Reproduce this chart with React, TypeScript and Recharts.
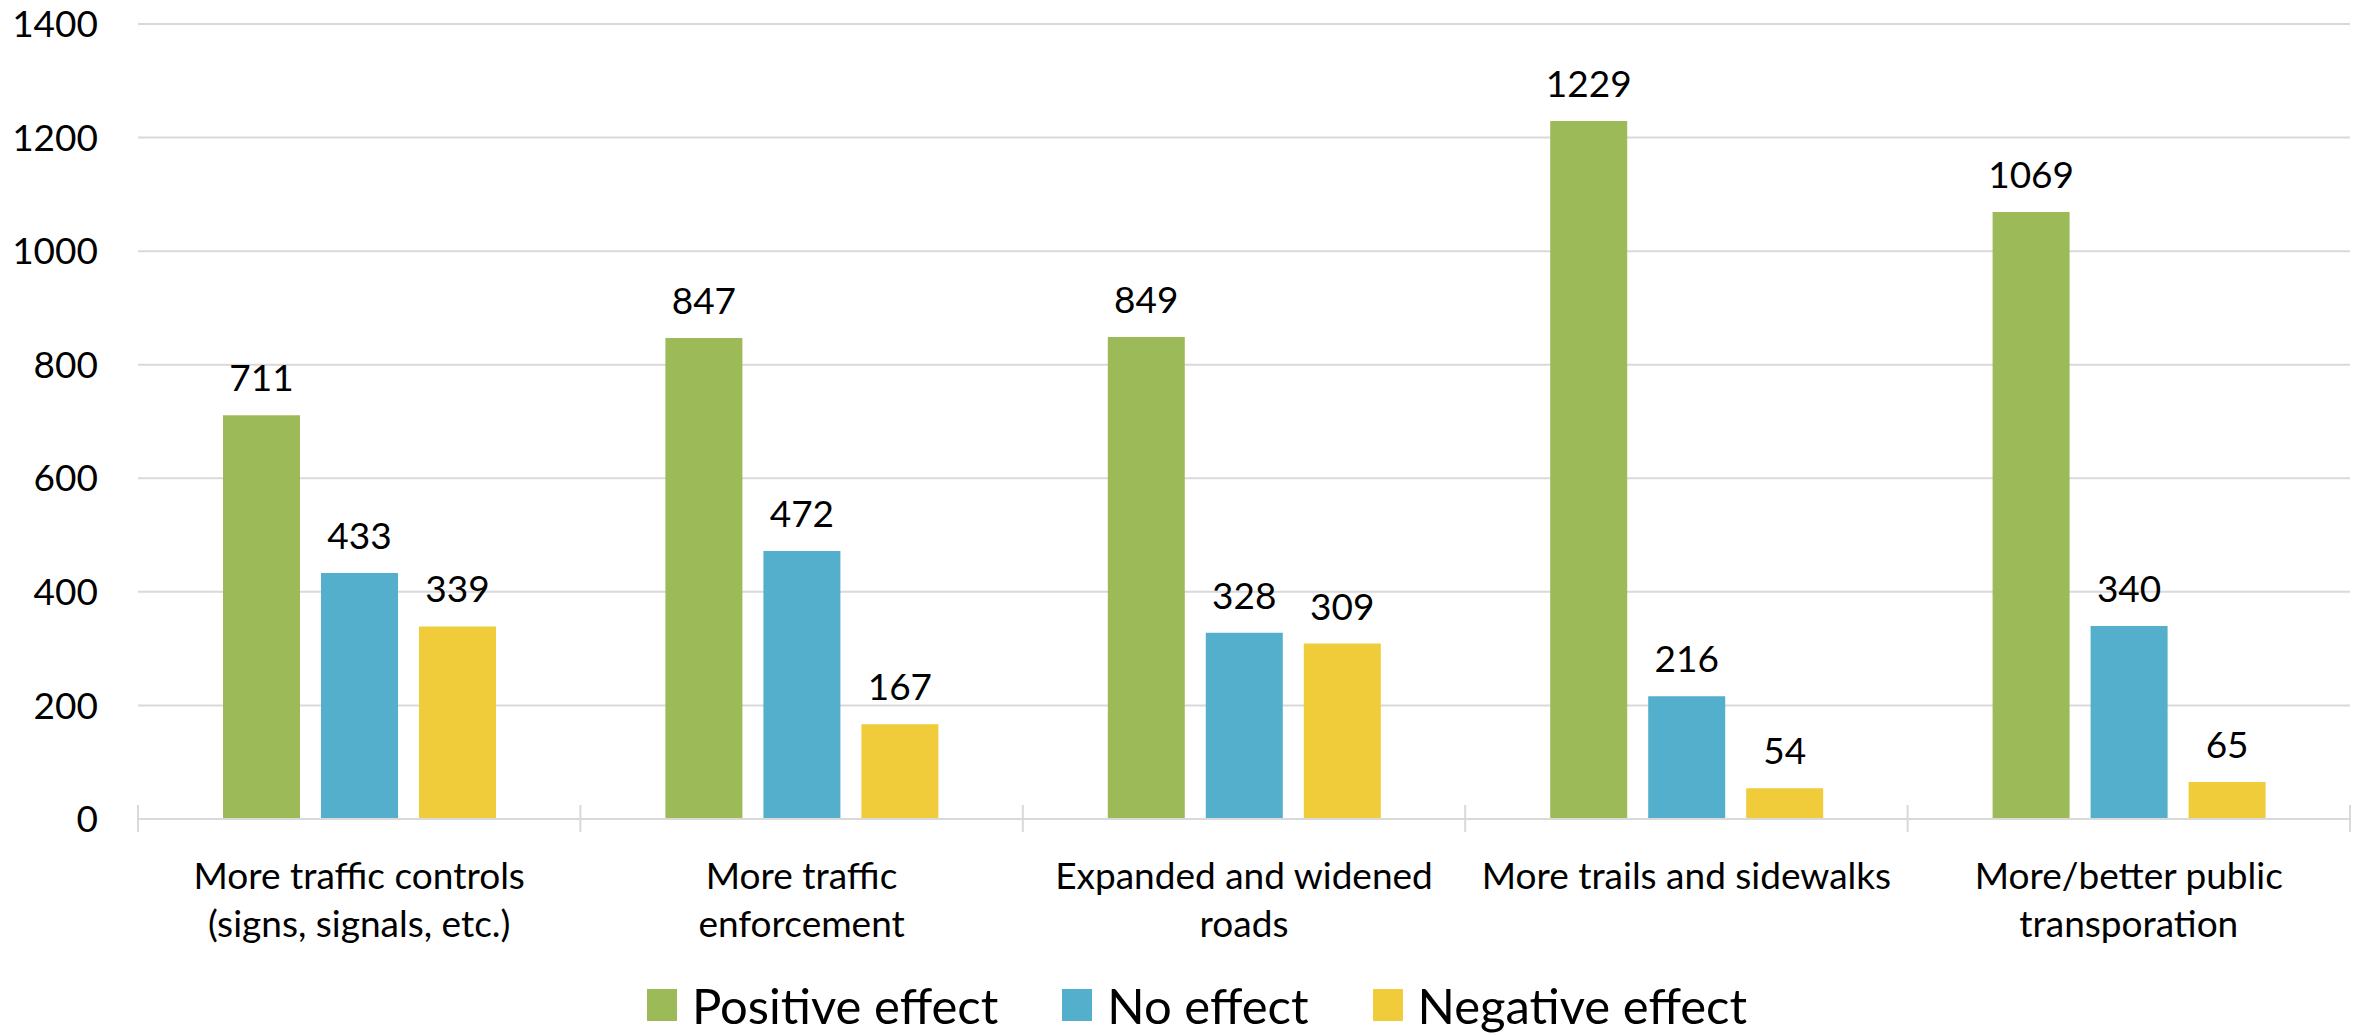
import React from 'react';
import { BarChart, Bar, XAxis, YAxis, CartesianGrid, Legend, LabelList } from 'recharts';

const categories = [
  'More traffic controls\n(signs, signals, etc.)',
  'More traffic\nenforcement',
  'Expanded and widened\nroads',
  'More trails and sidewalks',
  'More/better public\ntransporation',
];
const positiveEffect = [711, 847, 849, 1229, 1069];
const noEffect = [433, 472, 328, 216, 340];
const negativeEffect = [339, 167, 309, 54, 65];
const yTicks = [0, 200, 400, 600, 800, 1000, 1200, 1400];
const seriesKeys = ['positive', 'none', 'negative'];
const seriesNames = ['Positive effect', 'No effect', 'Negative effect'];
const seriesColors = ['#9CBB58', '#53AFCB', '#F0CB3A'];

const data = categories.map((category, i) => ({
  category,
  positive: positiveEffect[i],
  none: noEffect[i],
  negative: negativeEffect[i],
}));

const FONT = 'Lato, "Open Sans", sans-serif';
const GRID = '#D9D9D9';

const CategoryTick = (props: any) => {
  const { x, y, payload, index, visibleTicksCount, width } = props;
  const half =
    payload && typeof payload.offset === 'number' && payload.offset > 0
      ? payload.offset
      : width / visibleTicksCount / 2;
  const lines = String(payload.value).split('\n');
  return (
    <g>
      <line x1={x - half} x2={x - half} y1={y - 14} y2={y + 13} stroke={GRID} strokeWidth={2} />
      {index === visibleTicksCount - 1 && (
        <line x1={x + half} x2={x + half} y1={y - 14} y2={y + 13} stroke={GRID} strokeWidth={2} />
      )}
      <text x={x} y={y + 70} textAnchor="middle" fontFamily={FONT} fontSize={37} fill="#000">
        {lines.map((l, i) => (
          <tspan key={i} x={x} dy={i === 0 ? 0 : 48}>
            {l}
          </tspan>
        ))}
      </text>
    </g>
  );
};

const LegendContent = () => (
  <div
    style={{
      height: 60,
      display: 'flex',
      justifyContent: 'center',
      alignItems: 'center',
      fontFamily: FONT,
      fontSize: 49,
      color: '#000',
      paddingLeft: 44,
    }}
  >
    {seriesNames.map((name, i) => (
      <div key={name} style={{ display: 'flex', alignItems: 'center', marginRight: i < 2 ? 64 : 0 }}>
        <div style={{ width: 30, height: 32, background: seriesColors[i], marginRight: 15 }} />
        <span style={{ lineHeight: '60px' }}>{name}</span>
      </div>
    ))}
  </div>
);

export default function App() {
  return (
    <div style={{ width: 2366, height: 1035, background: '#fff' }}>
      <style>{'body{margin:0;background:#fff;}'}</style>
      <BarChart
        width={2366}
        height={1035}
        data={data}
        margin={{ top: 24, right: 16, left: 0, bottom: 0 }}
        barCategoryGap={85}
        barGap={21}
      >
        <CartesianGrid vertical={false} stroke={GRID} strokeWidth={2} />
        <XAxis
          dataKey="category"
          interval={0}
          height={156}
          tickSize={0}
          tickMargin={0}
          tickLine={false}
          axisLine={{ stroke: GRID, strokeWidth: 2 }}
          tick={<CategoryTick />}
        />
        <YAxis
          domain={[0, 1400]}
          ticks={yTicks}
          width={138}
          axisLine={false}
          tickLine={false}
          tickSize={0}
          tickMargin={40}
          tick={{ fontSize: 37, fontFamily: FONT, fill: '#000' }}
        />
        <Legend verticalAlign="bottom" content={<LegendContent />} />
        {seriesKeys.map((k, i) => (
          <Bar key={k} dataKey={k} name={seriesNames[i]} fill={seriesColors[i]} isAnimationActive={false}>
            <LabelList
              dataKey={k}
              position="top"
              offset={24}
              style={{ fontSize: 37, fontFamily: FONT, fill: '#000' }}
            />
          </Bar>
        ))}
      </BarChart>
    </div>
  );
}
